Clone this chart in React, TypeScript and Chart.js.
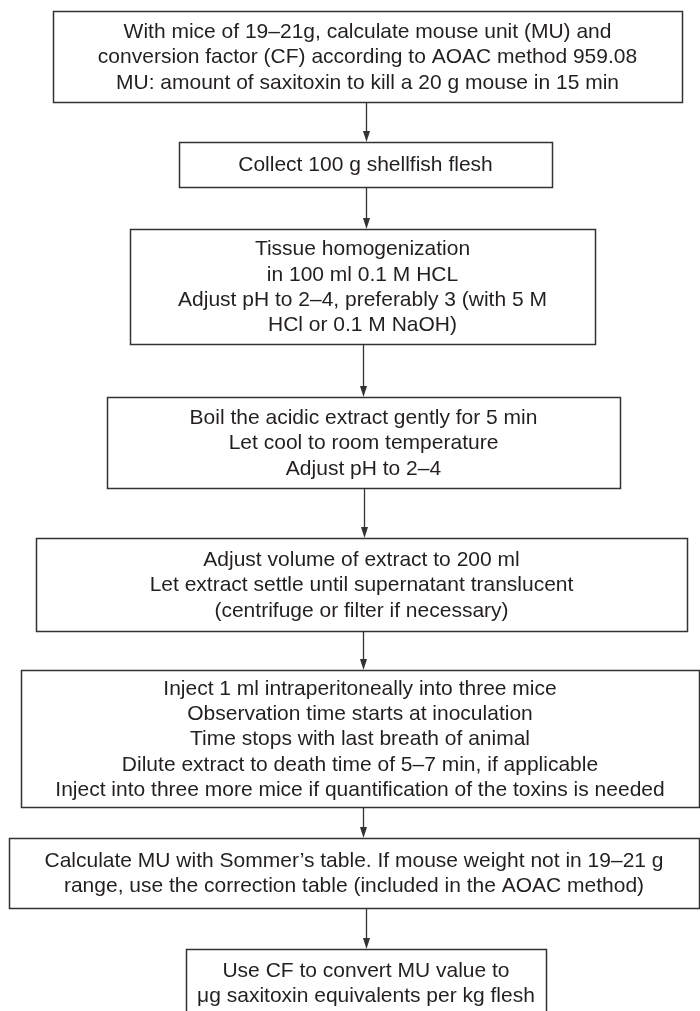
import React, { useEffect, useRef } from "react";
import { Chart, registerables } from "chart.js";

Chart.register(...registerables);

// Step texts (one array of lines per box)
const step1 = [
  "With mice of 19–21g, calculate mouse unit (MU) and",
  "conversion factor (CF) according to AOAC method 959.08",
  "MU: amount of saxitoxin to kill a 20 g mouse in 15 min",
];
const step2 = ["Collect 100 g shellfish flesh"];
const step3 = [
  "Tissue homogenization",
  "in 100 ml 0.1 M HCL",
  "Adjust pH to 2–4, preferably 3 (with 5 M",
  "HCl or 0.1 M NaOH)",
];
const step4 = [
  "Boil the acidic extract gently for 5 min",
  "Let cool to room temperature",
  "Adjust pH to 2–4",
];
const step5 = [
  "Adjust volume of extract to 200 ml",
  "Let extract settle until supernatant translucent",
  "(centrifuge or filter if necessary)",
];
const step6 = [
  "Inject 1 ml intraperitoneally into three mice",
  "Observation time starts at inoculation",
  "Time stops with last breath of animal",
  "Dilute extract to death time of 5–7 min, if applicable",
  "Inject into three more mice if quantification of the toxins is needed",
];
const step7 = [
  "Calculate MU with Sommer’s table. If mouse weight not in 19–21 g",
  "range, use the correction table (included in the AOAC method)",
];
const step8 = ["Use CF to convert MU value to", "μg saxitoxin equivalents per kg flesh"];

const steps = [step1, step2, step3, step4, step5, step6, step7, step8];

// Layout of the boxes in the chart's value space (x: 0..700, y: 0..1011 downward)
const boxLeft = [53, 179, 130, 107, 36, 21, 9, 186];
const boxRight = [682, 552, 595, 620, 687, 699, 699, 546];
const boxTop = [11, 142, 229, 397, 538, 670, 838, 949];
const boxBottom = [102, 187, 344, 488, 631, 807, 908, 1016];
const arrowX = [366, 366, 363, 364, 363, 363, 366];

const W = 700;
const H = 1011;
const LINE_GAP = 25.3;
const FONT = '21px "Liberation Sans", Arial, sans-serif';
const TEXT_COLOR = "#231f20";
const BORDER_COLOR = "#333333";

const flowPlugin = {
  id: "flowPlugin",
  afterDraw(chart: any) {
    const ctx = chart.ctx;
    const xs = chart.scales.x;
    const ys = chart.scales.y;
    const px = (v: number) => xs.getPixelForValue(v);
    const py = (v: number) => ys.getPixelForValue(v);
    ctx.save();
    // boxes
    ctx.strokeStyle = BORDER_COLOR;
    ctx.lineWidth = 1.5;
    steps.forEach((lines, i) => {
      const l = px(boxLeft[i]);
      const r = px(boxRight[i]);
      const t = py(boxTop[i]);
      const b = py(boxBottom[i]);
      ctx.fillStyle = "#ffffff";
      ctx.fillRect(l, t, r - l, b - t);
      ctx.strokeRect(l + 0.5, t + 0.5, r - l, b - t);
      ctx.fillStyle = TEXT_COLOR;
      ctx.font = FONT;
      ctx.textAlign = "center";
      ctx.textBaseline = "middle";
      const cx = (l + r) / 2;
      const cy = (t + b) / 2;
      const n = lines.length;
      lines.forEach((s, k) => {
        const y = cy + (k - (n - 1) / 2) * LINE_GAP;
        ctx.fillText(s, cx, y + 1);
      });
    });
    // arrows
    ctx.strokeStyle = BORDER_COLOR;
    ctx.fillStyle = BORDER_COLOR;
    ctx.lineWidth = 1.3;
    arrowX.forEach((ax, i) => {
      const x = Math.round(px(ax)) + 0.5;
      const y0 = py(boxBottom[i]) + 1;
      const y1 = py(boxTop[i + 1]);
      ctx.beginPath();
      ctx.moveTo(x, y0);
      ctx.lineTo(x, y1 - 8);
      ctx.stroke();
      ctx.beginPath();
      ctx.moveTo(x - 3.5, y1 - 11);
      ctx.lineTo(x + 3.5, y1 - 11);
      ctx.lineTo(x, y1);
      ctx.closePath();
      ctx.fill();
    });
    ctx.restore();
  },
};

export default function App() {
  const ref = useRef<HTMLCanvasElement | null>(null);
  useEffect(() => {
    if (!ref.current) return;
    const chart = new Chart(ref.current, {
      type: "scatter",
      data: { datasets: [{ data: [], pointRadius: 0 }] },
      options: {
        animation: false,
        responsive: false,
        maintainAspectRatio: false,
        layout: { padding: 0 },
        plugins: { legend: { display: false }, tooltip: { enabled: false } },
        scales: {
          x: { type: "linear", min: 0, max: W, display: false },
          y: { type: "linear", min: 0, max: H, reverse: true, display: false },
        },
      },
      plugins: [flowPlugin],
    });
    return () => chart.destroy();
  }, []);
  return (
    <div style={{ position: "fixed", left: 0, top: 0, width: W, height: H, background: "#fff" }}>
      <canvas ref={ref} width={W} height={H} style={{ width: W, height: H, display: "block" }} />
    </div>
  );
}
